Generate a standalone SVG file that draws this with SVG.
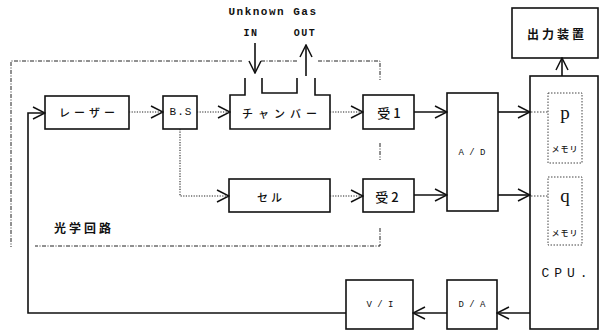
<svg xmlns="http://www.w3.org/2000/svg" width="603" height="331" viewBox="0 0 603 331">
<style>
.box{fill:#fff;stroke:#111;stroke-width:1.6}
.sol{fill:none;stroke:#111;stroke-width:1.6}
.dot{fill:none;stroke:#222;stroke-width:1.1;stroke-dasharray:1.2 1.4}
.dd{fill:none;stroke:#222;stroke-width:1;stroke-dasharray:4 1.5 1 1.5}
.mem{fill:none;stroke:#444;stroke-width:1;stroke-dasharray:1.5 1.5}
.jp{font-family:"Noto Sans CJK JP","Noto Sans",sans-serif;fill:#111;text-anchor:middle;dominant-baseline:central;font-weight:500}
.lat{font-family:"Liberation Mono","DejaVu Sans Mono",monospace;fill:#111;text-anchor:middle;dominant-baseline:central}
.ser{font-family:"Liberation Serif","DejaVu Serif",serif;fill:#111;text-anchor:middle;dominant-baseline:central}
.b{font-weight:bold}
</style>
<defs>
<marker id="ar" viewBox="-13 -7 14 14" refX="0" refY="0" markerWidth="14" markerHeight="14" markerUnits="userSpaceOnUse" orient="auto">
<path d="M-12,-6 L0,0 L-12,6" fill="none" stroke="#111" stroke-width="1.5"/>
</marker>
</defs>
<rect width="603" height="331" fill="#fff"/>

<g id="optical-boundary">
<path class="dd" d="M242,61 H11 V247"/>
<path class="dd" d="M261,61 H297"/>
<path class="dd" d="M318,61 H380 V80"/>
<path class="dd" d="M380,143 V160"/>
<path class="dd" d="M380,228 V246 H35"/>
<text class="jp b" x="84" y="227" font-size="12" letter-spacing="3">光学回路</text>
</g>

<g id="gas-labels">
<text class="lat b" x="273" y="12" font-size="11" letter-spacing="1.5">Unknown Gas</text>
<text class="lat b" x="251" y="33" font-size="10" letter-spacing="1.5">IN</text>
<text class="lat b" x="305" y="33" font-size="10" letter-spacing="1.5">OUT</text>
</g>

<g id="laser">
<rect class="box" x="45" y="96" width="84" height="33"/>
<text class="jp" x="89" y="112" font-size="11" letter-spacing="4">レーザー</text>
</g>
<g id="bs">
<rect class="box" x="163" y="96" width="34" height="33"/>
<text class="lat" x="181" y="112" font-size="11" letter-spacing="1">B.S</text>
</g>
<g id="chamber">
<path class="box" d="M245,78 V95 H230 V129 H330 V95 H315 V78"/>
<path class="sol" d="M262,78 V93 H297 V78"/>
<text class="jp" x="282" y="113" font-size="11" letter-spacing="5">チャンバー</text>
</g>
<g id="rx1">
<rect class="box" x="363" y="95" width="51" height="34"/>
<text class="jp" x="389" y="112" font-size="13">受 1</text>
</g>
<g id="cell">
<rect class="box" x="229" y="179" width="101" height="33"/>
<text class="jp" x="271" y="197" font-size="11" letter-spacing="3">セル</text>
</g>
<g id="rx2">
<rect class="box" x="363" y="179" width="51" height="33"/>
<text class="jp" x="387" y="196" font-size="13">受 2</text>
</g>
<g id="ad">
<rect class="box" x="447" y="93" width="51" height="118"/>
<text class="lat" x="472" y="153" font-size="9">A / D</text>
</g>
<g id="cpu">
<rect class="box" x="530" y="76" width="68" height="253"/>
<text class="lat" x="567" y="273" font-size="13" letter-spacing="5">CPU.</text>
</g>
<g id="mem-p">
<rect class="mem" x="548" y="93" width="34" height="70"/>
<text class="ser" x="565" y="112" font-size="19">p</text>
<text class="jp" x="565" y="148" font-size="8" letter-spacing="1">メモリ</text>
</g>
<g id="mem-q">
<rect class="mem" x="548" y="177" width="34" height="68"/>
<text class="ser" x="565" y="195" font-size="19">q</text>
<text class="jp" x="565" y="232" font-size="8" letter-spacing="1">メモリ</text>
</g>
<g id="output">
<rect class="box" x="512" y="8" width="86" height="50"/>
<text class="jp b" x="557" y="33" font-size="12" letter-spacing="3">出力装置</text>
</g>
<g id="da">
<rect class="box" x="447" y="280" width="50" height="49"/>
<text class="lat" x="472" y="305" font-size="9">D / A</text>
</g>
<g id="vi">
<rect class="box" x="346" y="280" width="67" height="49"/>
<text class="lat" x="380" y="305" font-size="9">V / I</text>
</g>

<g id="connectors">
<path class="sol" d="M255,43 V73" marker-end="url(#ar)"/>
<path class="sol" d="M306,76 V45" marker-end="url(#ar)"/>
<path class="dot" d="M129,112 H163" marker-end="url(#ar)"/>
<path class="dot" d="M197,112 H230" marker-end="url(#ar)"/>
<path class="dot" d="M330,112 H363" marker-end="url(#ar)"/>
<path class="dot" d="M180,129 V196 H229" marker-end="url(#ar)"/>
<path class="dot" d="M330,196 H363" marker-end="url(#ar)"/>
<path class="sol" d="M414,112 H447" marker-end="url(#ar)"/>
<path class="sol" d="M414,195 H447" marker-end="url(#ar)"/>
<path class="sol" d="M498,112 H530" marker-end="url(#ar)"/>
<path class="sol" d="M498,195 H530" marker-end="url(#ar)"/>
<path class="mem" d="M531,112 H548"/>
<path class="mem" d="M531,196 H548"/>
<path class="sol" d="M562,76 V58" marker-end="url(#ar)"/>
<path class="sol" d="M530,313 H497" marker-end="url(#ar)"/>
<path class="sol" d="M447,313 H413" marker-end="url(#ar)"/>
<path class="sol" d="M346,313 H28 V113 H45" marker-end="url(#ar)"/>
</g>
</svg>
